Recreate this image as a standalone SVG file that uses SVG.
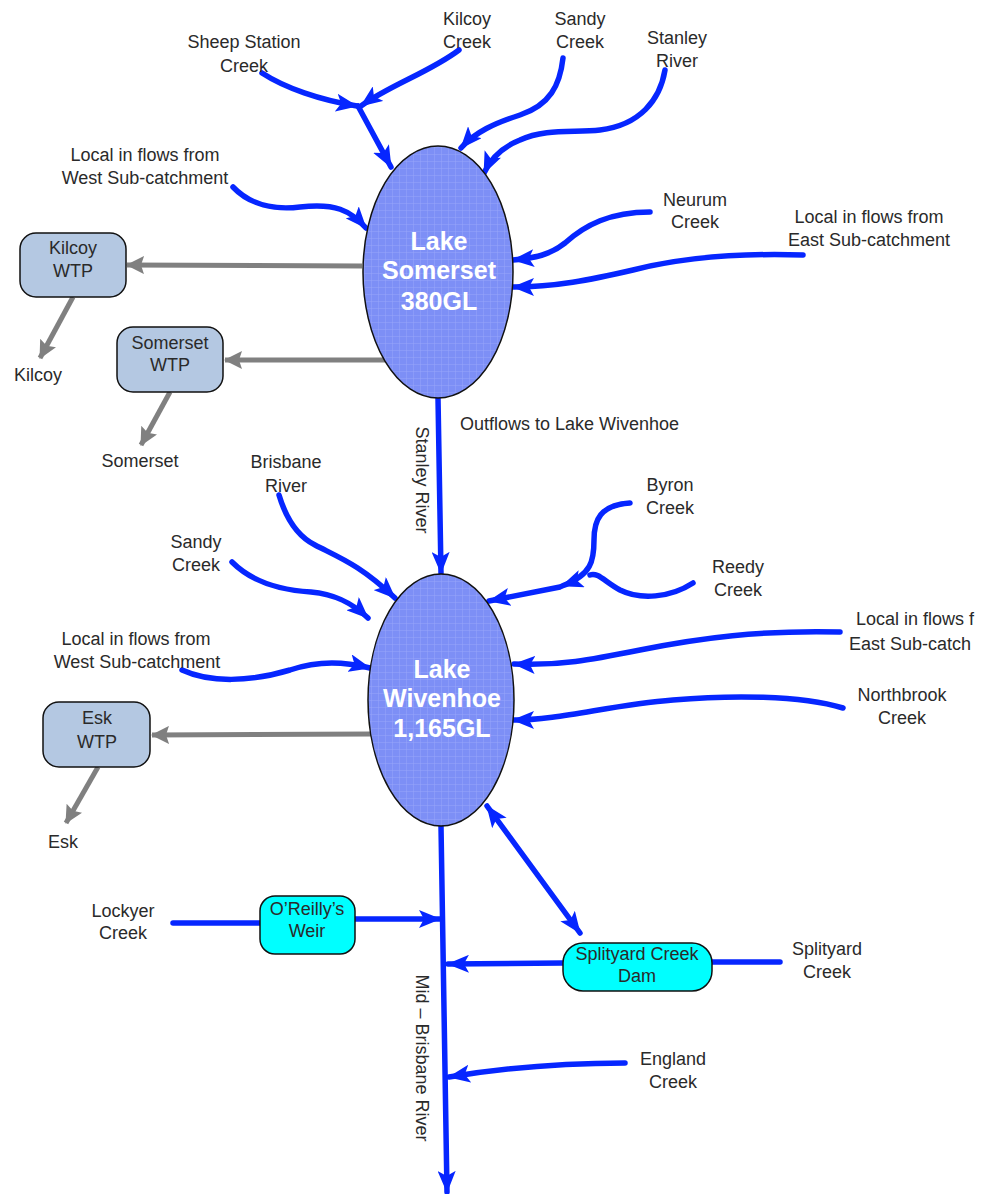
<svg xmlns="http://www.w3.org/2000/svg" width="984" height="1194" viewBox="0 0 984 1194">
<style>
.t{font-family:"Liberation Sans",Arial,sans-serif;font-size:18px;fill:#2a2a2a;text-anchor:middle}
.lk{font-family:"Liberation Sans",Arial,sans-serif;font-size:25px;font-weight:bold;fill:#fff;text-anchor:middle}
.b{fill:none;stroke:#0626ff;stroke-width:5.5;stroke-linecap:round}
.g{fill:none;stroke:#808080;stroke-width:5}
.wtp{fill:#b4c8e2;stroke:#111;stroke-width:1.5}
.cy{fill:#00ffff;stroke:#111;stroke-width:1.5}
.lake{fill:url(#grid);stroke:#111;stroke-width:1.5}
</style>
<defs>
<pattern id="grid" width="7" height="7" patternUnits="userSpaceOnUse">
<rect width="7" height="7" fill="#7d8ff6"/>
<path d="M0,0H7M0,0V7" stroke="#98a7fa" stroke-width="0.9"/>
</pattern>
<marker id="ab" viewBox="0 0 22 18" refX="21" refY="9" markerWidth="22" markerHeight="18" markerUnits="userSpaceOnUse" orient="auto-start-reverse">
<path d="M0,0 L22,9 L0,18 L5,9 z" fill="#0626ff"/>
</marker>
<marker id="ag" viewBox="0 0 18 18" refX="17" refY="9" markerWidth="18" markerHeight="18" markerUnits="userSpaceOnUse" orient="auto">
<path d="M0,0 L18,9 L0,18 L3,9 z" fill="#808080"/>
</marker>
</defs>

<g id="connectors">
<path class="b" d="M262,73 C285,88 320,100 357,106" marker-end="url(#ab)"/>
<path class="b" d="M459,50 C430,72 390,85 361,106" marker-end="url(#ab)"/>
<path class="b" d="M358,106 L391,167" marker-end="url(#ab)"/>
<path class="b" d="M563,58 C560,85 550,105 520,115 C495,123 475,132 461,148" marker-end="url(#ab)"/>
<path class="b" d="M665,70 C660,100 640,125 600,130 C575,133 545,128 520,140 C500,148 490,160 484,173" marker-end="url(#ab)"/>
<path class="b" d="M233,187 C250,205 275,210 300,207 C335,203 350,210 366,228" marker-end="url(#ab)"/>
<path class="b" d="M650,212 C610,212 585,225 565,243 C550,255 535,258 513,260" marker-end="url(#ab)"/>
<path class="b" d="M803,255 C740,253 680,258 633,270 C590,280 555,287 513,287" marker-end="url(#ab)"/>
<path class="g" d="M362,266 L127,265" marker-end="url(#ag)"/>
<path class="g" d="M385,360 L225,360" marker-end="url(#ag)"/>
<path class="g" d="M73,297 L40,358" marker-end="url(#ag)"/>
<path class="g" d="M170,392 L141,445" marker-end="url(#ag)"/>
<path class="b" d="M438,398 L441,573" marker-end="url(#ab)"/>
<path class="b" d="M279,495 C285,515 295,535 315,545 C340,558 360,565 395,598" marker-end="url(#ab)"/>
<path class="b" d="M232,562 C250,580 275,590 311,592 C335,594 352,603 368,618" marker-end="url(#ab)"/>
<path class="b" d="M630,503 C600,505 594,520 594,540 C594,560 592,575 562,586" marker-end="url(#ab)"/>
<path class="b" d="M693,583 C670,598 640,600 620,590 C605,582 598,572 590,575"/>
<path class="b" d="M560,587 L489,601" marker-end="url(#ab)"/>
<path class="b" d="M182,670 C210,683 250,682 290,670 C320,660 345,662 370,668" marker-end="url(#ab)"/>
<path class="b" d="M840,632 C760,630 700,638 640,650 C590,660 560,666 514,664" marker-end="url(#ab)"/>
<path class="b" d="M843,708 C800,695 730,695 673,700 C610,705 560,720 513,720" marker-end="url(#ab)"/>
<path class="g" d="M372,734 L152,735" marker-end="url(#ag)"/>
<path class="g" d="M98,767 L66,823" marker-end="url(#ag)"/>
<path class="b" d="M441,826 L447,1192" marker-end="url(#ab)"/>
<path class="b" d="M487,806 L580,933" marker-start="url(#ab)" marker-end="url(#ab)"/>
<path class="b" d="M173,923 L260,923"/>
<path class="b" d="M355,919 L440,919" marker-end="url(#ab)"/>
<path class="b" d="M780,962 L712,962"/>
<path class="b" d="M563,963 L448,964" marker-end="url(#ab)"/>
<path class="b" d="M625,1063 C570,1063 510,1067 449,1077" marker-end="url(#ab)"/>
</g>

<g id="lake-somerset">
<ellipse class="lake" cx="438" cy="272" rx="75" ry="126"/>
<text class="lk" x="439" y="250">Lake</text>
<text class="lk" x="439" y="279">Somerset</text>
<text class="lk" x="439" y="310">380GL</text>
</g>
<g id="lake-wivenhoe">
<ellipse class="lake" cx="441" cy="700" rx="73" ry="126"/>
<text class="lk" x="442" y="678">Lake</text>
<text class="lk" x="442" y="707">Wivenhoe</text>
<text class="lk" x="442" y="737">1,165GL</text>
</g>
<g id="kilcoy-wtp">
<rect class="wtp" x="20" y="233" width="106" height="64" rx="16"/>
<text class="t" x="73" y="254">Kilcoy</text>
<text class="t" x="73" y="277">WTP</text>
</g>
<g id="somerset-wtp">
<rect class="wtp" x="117" y="327" width="106" height="65" rx="16"/>
<text class="t" x="170" y="349">Somerset</text>
<text class="t" x="170" y="371">WTP</text>
</g>
<g id="esk-wtp">
<rect class="wtp" x="43" y="702" width="107" height="65" rx="16"/>
<text class="t" x="97" y="724">Esk</text>
<text class="t" x="97" y="748">WTP</text>
</g>
<g id="oreillys-weir">
<rect class="cy" x="260" y="896" width="95" height="58" rx="15"/>
<text class="t" x="307" y="915">O’Reilly’s</text>
<text class="t" x="307" y="937">Weir</text>
</g>
<g id="splityard-dam">
<rect class="cy" x="563" y="943" width="149" height="48" rx="20"/>
<text class="t" x="637" y="960">Splityard Creek</text>
<text class="t" x="637" y="982">Dam</text>
</g>

<g id="labels">
<text class="t" x="244" y="48">Sheep Station</text>
<text class="t" x="244" y="72">Creek</text>
<text class="t" x="467" y="25">Kilcoy</text>
<text class="t" x="467" y="48">Creek</text>
<text class="t" x="580" y="25">Sandy</text>
<text class="t" x="580" y="48">Creek</text>
<text class="t" x="677" y="44">Stanley</text>
<text class="t" x="677" y="67">River</text>
<text class="t" x="145" y="161">Local in flows from</text>
<text class="t" x="145" y="184">West Sub-catchment</text>
<text class="t" x="695" y="206">Neurum</text>
<text class="t" x="695" y="228">Creek</text>
<text class="t" x="869" y="223">Local in flows from</text>
<text class="t" x="869" y="246">East Sub-catchment</text>
<text class="t" x="38" y="381">Kilcoy</text>
<text class="t" x="140" y="467">Somerset</text>
<text class="t" x="460" y="430" style="text-anchor:start">Outflows to Lake Wivenhoe</text>
<text class="t" transform="translate(416,480) rotate(90)">Stanley River</text>
<text class="t" x="286" y="468">Brisbane</text>
<text class="t" x="286" y="492">River</text>
<text class="t" x="196" y="548">Sandy</text>
<text class="t" x="196" y="571">Creek</text>
<text class="t" x="670" y="491">Byron</text>
<text class="t" x="670" y="514">Creek</text>
<text class="t" x="738" y="573">Reedy</text>
<text class="t" x="738" y="596">Creek</text>
<text class="t" x="136" y="645">Local in flows from</text>
<text class="t" x="137" y="668">West Sub-catchment</text>
<text class="t" x="856" y="625" style="text-anchor:start">Local in flows f</text>
<text class="t" x="849" y="650" style="text-anchor:start">East Sub-catch</text>
<text class="t" x="902" y="701">Northbrook</text>
<text class="t" x="902" y="724">Creek</text>
<text class="t" x="63" y="848">Esk</text>
<text class="t" x="123" y="917">Lockyer</text>
<text class="t" x="123" y="939">Creek</text>
<text class="t" x="827" y="955">Splityard</text>
<text class="t" x="827" y="978">Creek</text>
<text class="t" x="673" y="1065">England</text>
<text class="t" x="673" y="1088">Creek</text>
<text class="t" transform="translate(416,1058) rotate(90)">Mid – Brisbane River</text>
</g>
</svg>
